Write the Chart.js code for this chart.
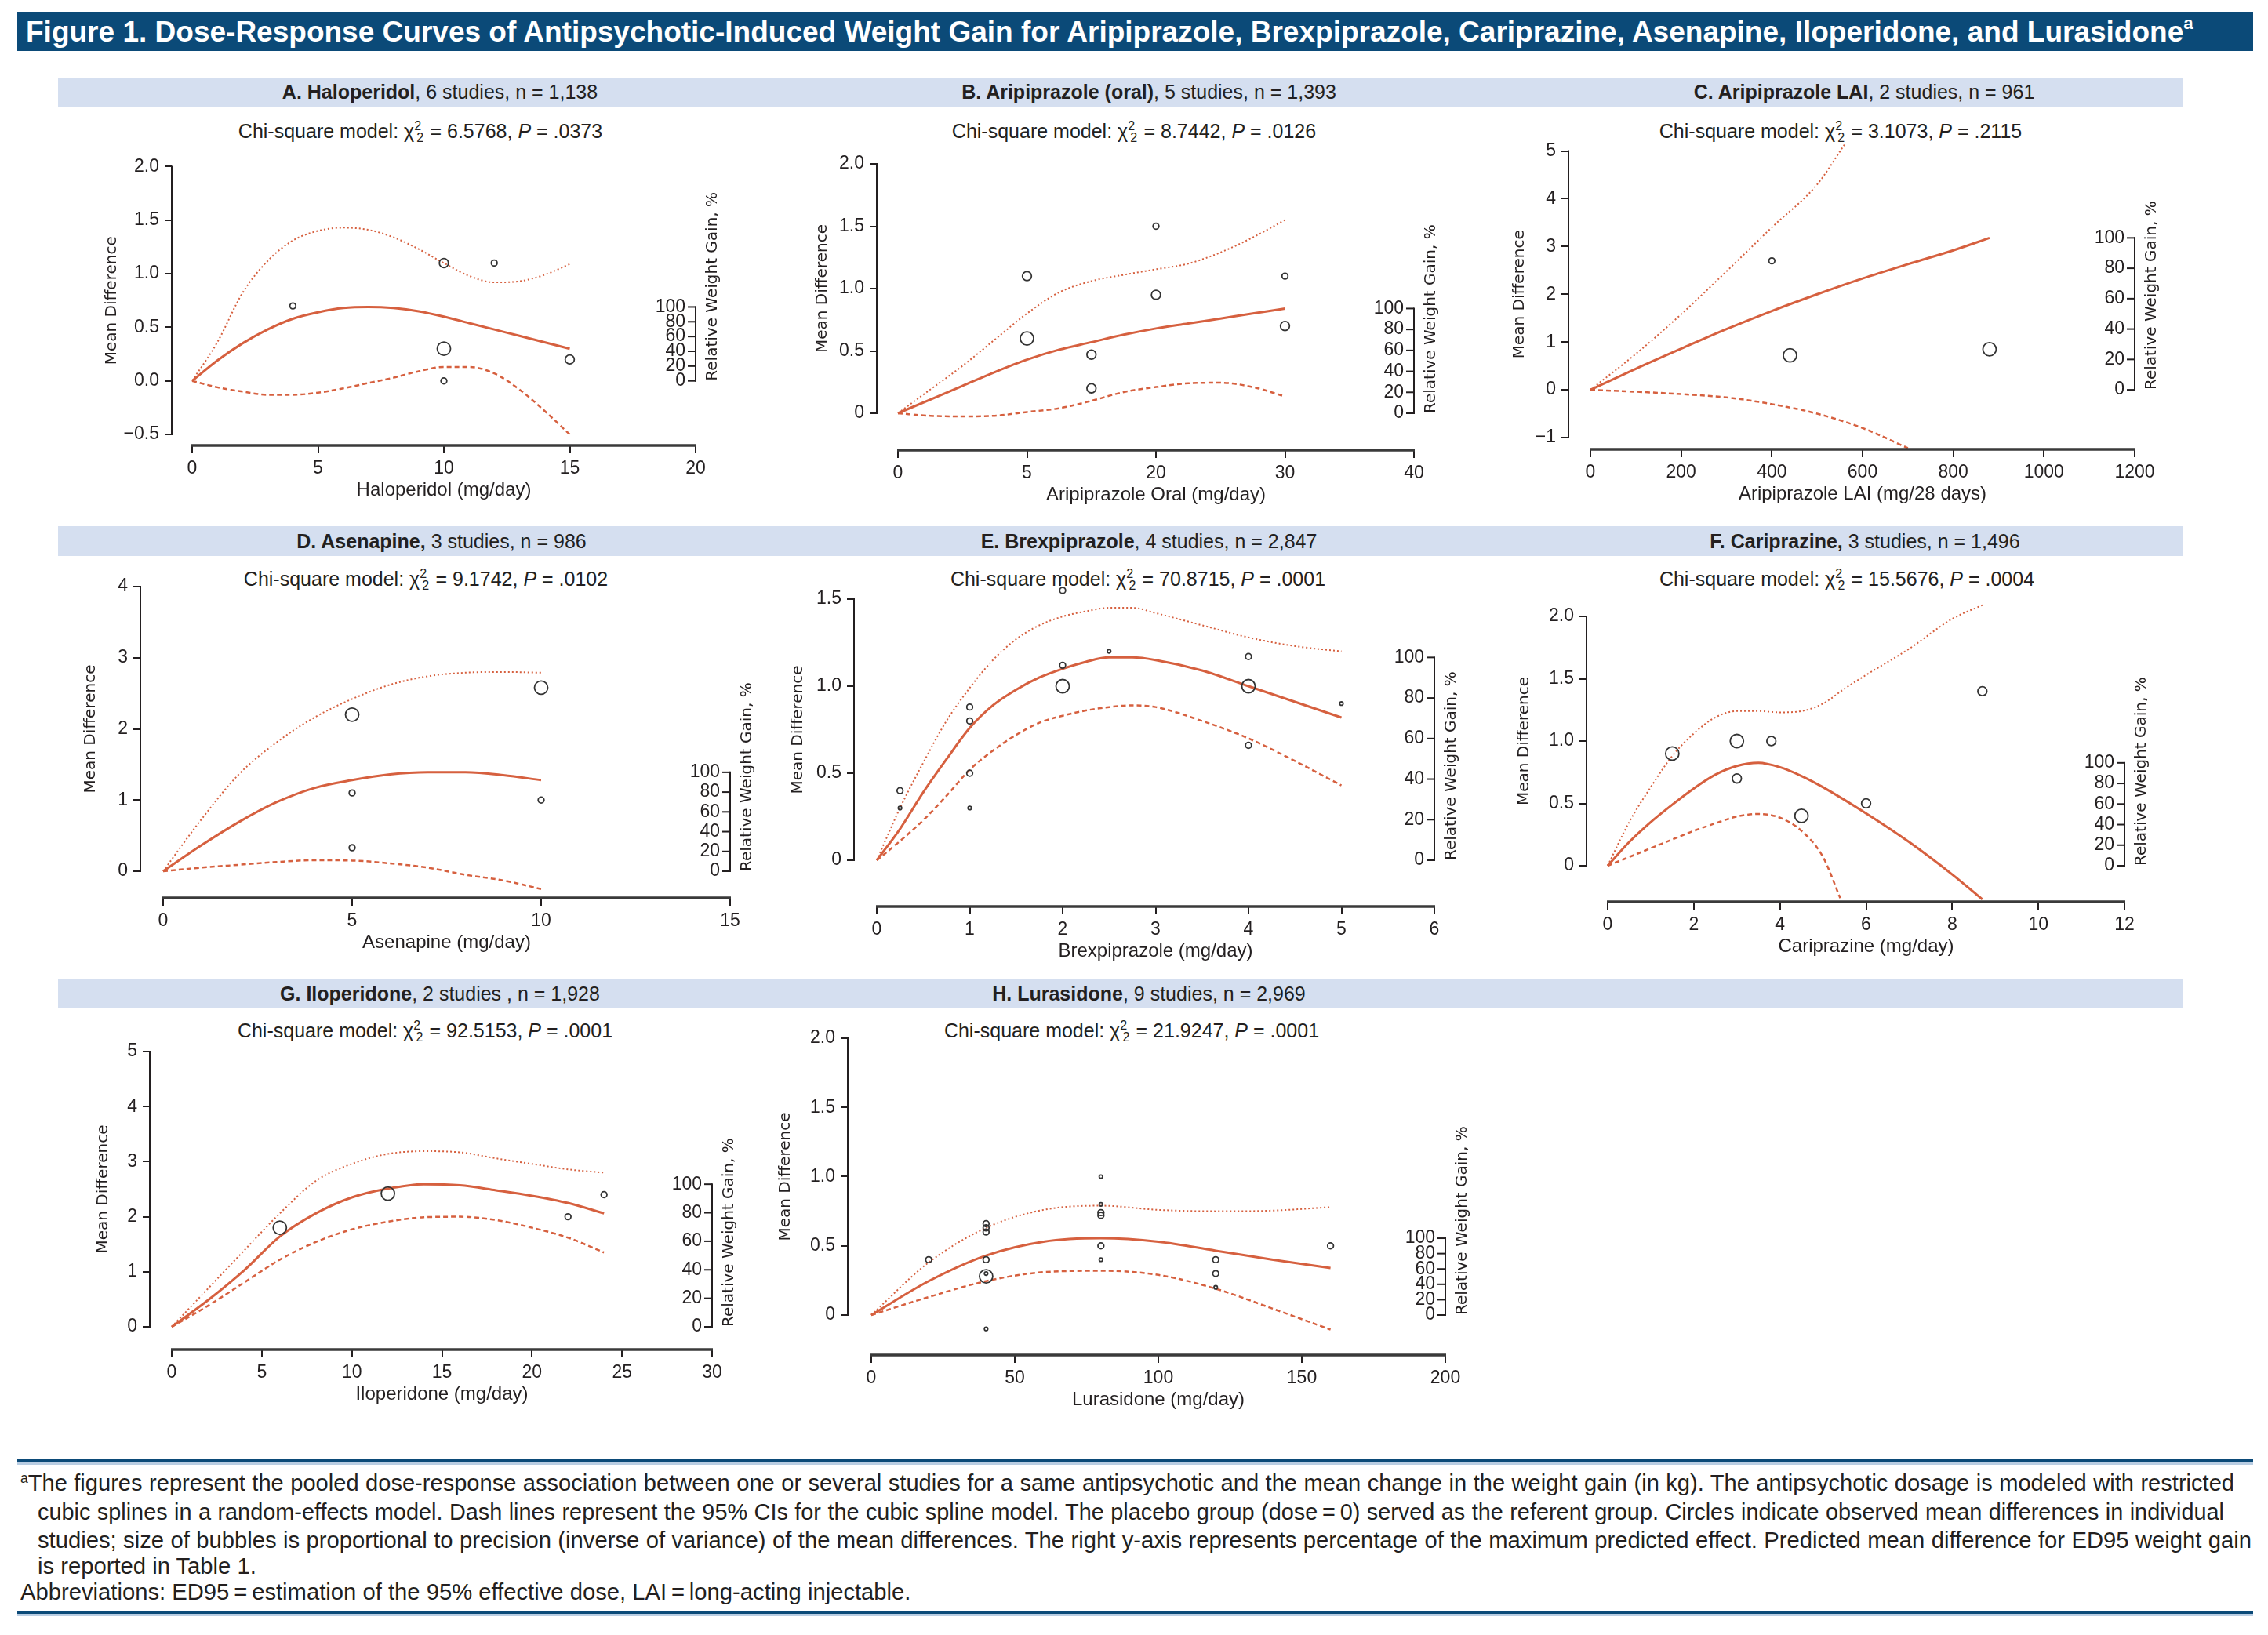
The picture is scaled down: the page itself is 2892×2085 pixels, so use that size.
<!DOCTYPE html>
<html lang="en">
<head>
<meta charset="UTF-8">
<title>Figure 1. Dose-Response Curves of Antipsychotic-Induced Weight Gain</title>
<style>
  body { margin: 0; background: #fff; }
  #page { position: relative; width: 2892px; height: 2085px; overflow: hidden;
          font-family: "Liberation Sans", Arial, sans-serif; color: #231f20; }
  .titlebar { position: absolute; left: 22px; top: 15px; width: 2851px; height: 50px; background: #0b4a78; }
  .titlebar span { position: absolute; left: 11px; top: 0; line-height: 50px; color: #fff;
                   font-weight: bold; font-size: 33px; white-space: nowrap; }
  .titlebar sup { font-size: 0.6em; vertical-align: 0.7em; line-height: 0; }
  .band { position: absolute; left: 74px; width: 2710px; background: #d5dff0; }
  .head, .chi { position: absolute; transform: translateX(-50%); white-space: nowrap; }
  .head { font-size: 25px; }
  .chi { font-size: 25px; line-height: 30px; }
  .chi sup, .chi sub { font-size: 0.64em; line-height: 0; }
  .chi sup { vertical-align: 0.62em; }
  .chi sub { vertical-align: -0.32em; margin-left: -0.36em; margin-right: 0.08em; }
  .rule { position: absolute; left: 22px; width: 2851px; height: 4px; background: #0b4a78;
          box-shadow: 0 3px 0 #b9cde2; }
  .fn { position: absolute; font-size: 25px; line-height: 34px; white-space: nowrap; }
  .fn.just { text-align: justify; text-align-last: justify; }
  .fn sup { font-size: 0.6em; vertical-align: 0.6em; line-height: 0; }
  canvas { position: absolute; }
</style>
</head>
<body>
<div id="page">
  <div class="titlebar"><span id="figTitle">Figure 1. Dose-Response Curves of Antipsychotic-Induced Weight Gain for Aripiprazole, Brexpiprazole, Cariprazine, Asenapine, Iloperidone, and Lurasidone<sup>a</sup></span></div>

  <div class="band" style="top:99px;height:37px"></div>
  <div class="band" style="top:671px;height:38px"></div>
  <div class="band" style="top:1248px;height:38px"></div>

  <div class="head" style="left:561px;top:99px;line-height:37px"><b>A. Haloperidol</b>, 6 studies, n = 1,138</div>
  <div class="head" style="left:1465px;top:99px;line-height:37px"><b>B. Aripiprazole (oral)</b>, 5 studies, n = 1,393</div>
  <div class="head" style="left:2377px;top:99px;line-height:37px"><b>C. Aripiprazole LAI</b>, 2 studies, n = 961</div>
  <div class="head" style="left:563px;top:671px;line-height:38px"><b>D. Asenapine,</b> 3 studies, n = 986</div>
  <div class="head" style="left:1465px;top:671px;line-height:38px"><b>E. Brexpiprazole</b>, 4 studies, n = 2,847</div>
  <div class="head" style="left:2378px;top:671px;line-height:38px"><b>F. Cariprazine,</b> 3 studies, n = 1,496</div>
  <div class="head" style="left:561px;top:1248px;line-height:38px"><b>G. Iloperidone</b>, 2 studies , n = 1,928</div>
  <div class="head" style="left:1465px;top:1248px;line-height:38px"><b>H. Lurasidone</b>, 9 studies, n = 2,969</div>

  <div class="chi" style="left:536px;top:152px">Chi-square model: χ<sup>2</sup><sub>2</sub> = 6.5768, <i>P</i> = .0373</div>
  <div class="chi" style="left:1446px;top:152px">Chi-square model: χ<sup>2</sup><sub>2</sub> = 8.7442, <i>P</i> = .0126</div>
  <div class="chi" style="left:2347px;top:152px">Chi-square model: χ<sup>2</sup><sub>2</sub> = 3.1073, <i>P</i> = .2115</div>
  <div class="chi" style="left:543px;top:723px">Chi-square model: χ<sup>2</sup><sub>2</sub> = 9.1742, <i>P</i> = .0102</div>
  <div class="chi" style="left:1451px;top:723px">Chi-square model: χ<sup>2</sup><sub>2</sub> = 70.8715, <i>P</i> = .0001</div>
  <div class="chi" style="left:2355px;top:723px">Chi-square model: χ<sup>2</sup><sub>2</sub> = 15.5676, <i>P</i> = .0004</div>
  <div class="chi" style="left:542px;top:1299px">Chi-square model: χ<sup>2</sup><sub>2</sub> = 92.5153, <i>P</i> = .0001</div>
  <div class="chi" style="left:1443px;top:1299px">Chi-square model: χ<sup>2</sup><sub>2</sub> = 21.9247, <i>P</i> = .0001</div>

  <div class="rule" style="top:1861px"></div>
  <div class="fn" data-w="2823" style="left:26px;top:1874px"><sup>a</sup>The figures represent the pooled dose-response association between one or several studies for a same antipsychotic and the mean change in the weight gain (in kg). The antipsychotic dosage is modeled with restricted</div>
  <div class="fn" data-w="2788" style="left:48px;top:1911px">cubic splines in a random-effects model. Dash lines represent the 95% CIs for the cubic spline model. The placebo group (dose&#8201;=&#8201;0) served as the referent group. Circles indicate observed mean differences in individual</div>
  <div class="fn" data-w="2823" style="left:48px;top:1947px">studies; size of bubbles is proportional to precision (inverse of variance) of the mean differences. The right y-axis represents percentage of the maximum predicted effect. Predicted mean difference for ED95 weight gain</div>
  <div class="fn" style="left:48px;top:1980px">is reported in Table 1.</div>
  <div class="fn" id="fnAbbr" style="left:26px;top:2013px">Abbreviations: ED95&#8201;=&#8201;estimation of the 95% effective dose, LAI&#8201;=&#8201;long-acting injectable.</div>
  <div class="rule" style="top:2054px"></div>
</div>

<script src="https://cdn.jsdelivr.net/npm/chart.js@4"></script>
<script>
// ---- data ----
// A. Haloperidol
const haloDose   = [0, 1, 2, 3, 4, 5, 6, 7, 8, 9, 10, 11, 12, 13, 14, 15];
const haloFit    = [0, 0.19, 0.35, 0.48, 0.58, 0.64, 0.68, 0.69, 0.68, 0.65, 0.60, 0.54, 0.48, 0.42, 0.36, 0.30];
const haloUpper  = [0, 0.36, 0.82, 1.12, 1.31, 1.40, 1.43, 1.41, 1.34, 1.23, 1.10, 0.98, 0.92, 0.93, 0.99, 1.09];
const haloLower  = [0, -0.06, -0.10, -0.13, -0.13, -0.11, -0.07, -0.02, 0.03, 0.09, 0.13, 0.13, 0.07, -0.08, -0.28, -0.50];
const haloStudyDose = [4, 10, 12, 10, 10, 15];
const haloStudyMD   = [0.70, 1.10, 1.10, 0.30, 0.00, 0.20];
const haloStudyPrec = [2, 3, 2, 4, 2, 3];

// B. Aripiprazole (oral)
const ariDose  = [0, 2.5, 5, 7.5, 10, 12.5, 15, 17.5, 20, 22.5, 25, 27.5, 30];
const ariFit   = [0, 0.11, 0.22, 0.33, 0.43, 0.51, 0.57, 0.63, 0.68, 0.72, 0.76, 0.80, 0.84];
const ariUpper = [0, 0.19, 0.38, 0.59, 0.80, 0.97, 1.06, 1.11, 1.155, 1.20, 1.29, 1.41, 1.55];
const ariLower = [0, -0.02, -0.025, -0.02, 0.01, 0.04, 0.10, 0.17, 0.21, 0.24, 0.245, 0.21, 0.135];
const ariStudyDose = [10, 10, 15, 15, 20, 20, 30, 30];
const ariStudyMD   = [1.10, 0.60, 0.47, 0.20, 1.50, 0.95, 1.10, 0.70];
const ariStudyPrec = [3, 4, 3, 3, 2, 3, 2, 3];

// C. Aripiprazole LAI
const laiFitDose   = [0, 100, 200, 300, 400, 500, 600, 700, 800, 880];
const laiFit       = [0, 0.44, 0.86, 1.27, 1.65, 2.00, 2.33, 2.63, 2.92, 3.18];
const laiUpperDose = [0, 100, 200, 300, 400, 500, 560];
const laiUpper     = [0, 0.75, 1.58, 2.48, 3.40, 4.30, 5.13];
const laiLowerDose = [0, 100, 200, 300, 400, 500, 600, 700];
const laiLower     = [0, -0.04, -0.09, -0.16, -0.30, -0.50, -0.80, -1.22];
const laiStudyDose = [400, 440, 880];
const laiStudyMD   = [2.70, 0.72, 0.85];
const laiStudyPrec = [2, 4, 4];

// D. Asenapine
const asenDose  = [0, 1, 2, 3, 4, 5, 6, 7, 8, 9, 10];
const asenFit   = [0, 0.36, 0.69, 0.97, 1.17, 1.28, 1.36, 1.39, 1.39, 1.35, 1.28];
const asenUpper = [0, 0.72, 1.36, 1.81, 2.16, 2.42, 2.62, 2.74, 2.79, 2.80, 2.79];
const asenLower = [0, 0.05, 0.09, 0.13, 0.155, 0.15, 0.11, 0.05, -0.05, -0.13, -0.25];
const asenStudyDose = [5, 10, 5, 10, 5];
const asenStudyMD   = [2.20, 2.58, 1.10, 1.00, 0.33];
const asenStudyPrec = [4, 4, 2, 2, 2];

// E. Brexpiprazole
const brexDose  = [0, 0.25, 0.5, 0.75, 1, 1.25, 1.5, 1.75, 2, 2.25, 2.5, 2.75, 3, 3.5, 4, 4.5, 5];
const brexFit   = [0, 0.18, 0.39, 0.58, 0.76, 0.89, 0.98, 1.05, 1.10, 1.14, 1.165, 1.165, 1.15, 1.09, 1.00, 0.91, 0.82];
const brexUpper = [0, 0.30, 0.56, 0.80, 0.99, 1.15, 1.27, 1.35, 1.40, 1.43, 1.45, 1.45, 1.42, 1.35, 1.28, 1.23, 1.20];
const brexLower = [0, 0.11, 0.23, 0.37, 0.52, 0.63, 0.72, 0.79, 0.83, 0.86, 0.88, 0.89, 0.88, 0.80, 0.70, 0.57, 0.43];
const brexStudyDose = [0.25, 0.25, 1, 1, 1, 1, 2, 2, 2, 2.5, 4, 4, 4, 5];
const brexStudyMD   = [0.40, 0.30, 0.88, 0.80, 0.50, 0.30, 1.55, 1.12, 1.00, 1.20, 1.17, 1.00, 0.66, 0.90];
const brexStudyPrec = [2, 1, 2, 2, 2, 1, 2, 2, 4, 1, 2, 4, 2, 1];

// F. Cariprazine
const cariFitDose   = [0, 0.5, 1, 1.5, 2, 2.5, 3, 3.5, 4, 4.5, 5, 6, 7, 8, 8.7];
const cariFit       = [0, 0.19, 0.35, 0.49, 0.62, 0.73, 0.80, 0.825, 0.79, 0.72, 0.63, 0.42, 0.19, -0.07, -0.27];
const cariUpperDose = [0, 0.5, 1, 1.5, 2, 2.5, 3, 3.5, 4, 4.5, 5, 5.5, 6, 7, 8, 8.7];
const cariUpper     = [0, 0.35, 0.63, 0.88, 1.06, 1.19, 1.24, 1.24, 1.23, 1.24, 1.30, 1.42, 1.53, 1.74, 1.98, 2.09];
const cariLowerDose = [0, 0.5, 1, 1.5, 2, 2.5, 3, 3.5, 4, 4.5, 5, 5.4];
const cariLower     = [0, 0.07, 0.14, 0.21, 0.28, 0.34, 0.395, 0.415, 0.385, 0.28, 0.07, -0.26];
const cariStudyDose = [1.5, 3, 3.8, 3, 4.5, 6, 8.7];
const cariStudyMD   = [0.90, 1.00, 1.00, 0.70, 0.40, 0.50, 1.40];
const cariStudyPrec = [4, 4, 3, 3, 4, 3, 3];

// G. Iloperidone
const iloDose  = [0, 2, 4, 6, 8, 10, 12, 14, 16, 18, 20, 22, 24];
const iloFit   = [0, 0.48, 1.02, 1.64, 2.06, 2.35, 2.51, 2.59, 2.57, 2.48, 2.38, 2.25, 2.06];
const iloUpper = [0, 0.69, 1.38, 2.06, 2.65, 2.96, 3.14, 3.19, 3.17, 3.06, 2.96, 2.86, 2.80];
const iloLower = [0, 0.38, 0.80, 1.22, 1.54, 1.77, 1.91, 1.99, 2.00, 1.94, 1.80, 1.62, 1.35];
const iloStudyDose = [6, 12, 22, 24];
const iloStudyMD   = [1.80, 2.42, 2.00, 2.40];
const iloStudyPrec = [4, 4, 2, 2];

// H. Lurasidone
const luraDose  = [0, 20, 40, 60, 80, 100, 120, 140, 160];
const luraFit   = [0, 0.245, 0.43, 0.53, 0.555, 0.53, 0.465, 0.40, 0.34];
const luraUpper = [0, 0.38, 0.63, 0.76, 0.79, 0.76, 0.75, 0.755, 0.78];
const luraLower = [0, 0.13, 0.245, 0.31, 0.32, 0.29, 0.19, 0.045, -0.105];
const luraStudyDose = [20, 40, 40, 40, 40, 40, 40, 40, 80, 80, 80, 80, 80, 80, 120, 120, 120, 160];
const luraStudyMD   = [0.40, 0.66, 0.63, 0.60, 0.40, 0.28, 0.30, -0.10, 1.00, 0.80, 0.74, 0.72, 0.50, 0.40, 0.40, 0.30, 0.20, 0.50];
const luraStudyPrec = [2, 2, 2, 2, 2, 4, 1, 1, 1, 1, 2, 2, 2, 1, 2, 2, 1, 2];

// tick values and labels
const relTicks = [0, 20, 40, 60, 80, 100];
const haloXTicks = [0, 5, 10, 15, 20];
const ariXTicks = [0, 10, 20, 30, 40];
const ariXLabels = ['0', '5', '20', '30', '40'];
const laiXTicks = [0, 200, 400, 600, 800, 1000, 1200];
const asenXTicks = [0, 5, 10, 15];
const brexXTicks = [0, 1, 2, 3, 4, 5, 6];
const cariXTicks = [0, 2, 4, 6, 8, 10, 12];
const iloXTicks = [0, 5, 10, 15, 20, 25, 30];
const luraXTicks = [0, 50, 100, 150, 200];
const haloYTicks = [-0.5, 0, 0.5, 1, 1.5, 2];
const haloYLabels = ['\u22120.5', '0.0', '0.5', '1.0', '1.5', '2.0'];
const halfYTicks = [0, 0.5, 1, 1.5, 2];
const halfYLabels = ['0', '0.5', '1.0', '1.5', '2.0'];
const laiYTicks = [-1, 0, 1, 2, 3, 4, 5];
const laiYLabels = ['\u22121', '0', '1', '2', '3', '4', '5'];
const asenYTicks = [0, 1, 2, 3, 4];
const brexYTicks = [0, 0.5, 1, 1.5];
const brexYLabels = ['0', '0.5', '1.0', '1.5'];
const iloYTicks = [0, 1, 2, 3, 4, 5];

// ---- styling ----
const INK = '#231f20';
const RED = '#d6603f';
const ML = 110, MR = 50, MT = 25, MB = 80;
const bubbleR = {1: 2.2, 2: 3.8, 3: 5.8, 4: 8.5};

Chart.defaults.font.family = '"Liberation Sans", Arial, sans-serif';
Chart.defaults.font.size = 23;
Chart.defaults.color = INK;

const panels = [
  {xt: 'Haloperidol (mg/day)', l: 219, r: 887, x0: 245, t: 195, b: 568, yTopPx: 212.5, yBotPx: 554, gap: 76,
   fit: [haloDose, haloFit], up: [haloDose, haloUpper], lo: [haloDose, haloLower],
   st: [haloStudyDose, haloStudyMD, haloStudyPrec], xTicks: haloXTicks, yTicks: haloYTicks, yLabels: haloYLabels},
  {xt: 'Aripiprazole Oral (mg/day)', l: 1118, r: 1803, x0: 1145, t: 195, b: 574, yTopPx: 209, yBotPx: 527, gap: 69,
   fit: [ariDose, ariFit], up: [ariDose, ariUpper], lo: [ariDose, ariLower],
   st: [ariStudyDose, ariStudyMD, ariStudyPrec], xTicks: ariXTicks, xLabels: ariXLabels, yTicks: halfYTicks, yLabels: halfYLabels},
  {xt: 'Aripiprazole LAI (mg/28 days)', l: 2000, r: 2722, x0: 2028, t: 175, b: 573, yTopPx: 192.5, yBotPx: 558, gap: 62,
   fit: [laiFitDose, laiFit], up: [laiUpperDose, laiUpper], lo: [laiLowerDose, laiLower],
   st: [laiStudyDose, laiStudyMD, laiStudyPrec], xTicks: laiXTicks, yTicks: laiYTicks, yLabels: laiYLabels},
  {xt: 'Asenapine (mg/day)', l: 179, r: 931, x0: 208, t: 735, b: 1145, yTopPx: 748, yBotPx: 1111, gap: 63,
   fit: [asenDose, asenFit], up: [asenDose, asenUpper], lo: [asenDose, asenLower],
   st: [asenStudyDose, asenStudyMD, asenStudyPrec], xTicks: asenXTicks, yTicks: asenYTicks},
  {xt: 'Brexpiprazole (mg/day)', l: 1089, r: 1829, x0: 1118, t: 735, b: 1156, yTopPx: 764, yBotPx: 1097, gap: 71,
   fit: [brexDose, brexFit], up: [brexDose, brexUpper], lo: [brexDose, brexLower],
   st: [brexStudyDose, brexStudyMD, brexStudyPrec], xTicks: brexXTicks, yTicks: brexYTicks, yLabels: brexYLabels},
  {xt: 'Cariprazine (mg/day)', l: 2023, r: 2709, x0: 2050, t: 760, b: 1150, yTopPx: 786, yBotPx: 1104, gap: 79,
   fit: [cariFitDose, cariFit], up: [cariUpperDose, cariUpper], lo: [cariLowerDose, cariLower],
   st: [cariStudyDose, cariStudyMD, cariStudyPrec], xTicks: cariXTicks, yTicks: halfYTicks, yLabels: halfYLabels},
  {xt: 'Iloperidone (mg/day)', l: 191, r: 908, x0: 219, t: 1325, b: 1721, yTopPx: 1341, yBotPx: 1692, gap: 59,
   fit: [iloDose, iloFit], up: [iloDose, iloUpper], lo: [iloDose, iloLower],
   st: [iloStudyDose, iloStudyMD, iloStudyPrec], xTicks: iloXTicks, yTicks: iloYTicks},
  {xt: 'Lurasidone (mg/day)', l: 1081, r: 1843, x0: 1111, t: 1310, b: 1728, yTopPx: 1324, yBotPx: 1677, gap: 79,
   fit: [luraDose, luraFit], up: [luraDose, luraUpper], lo: [luraDose, luraLower],
   st: [luraStudyDose, luraStudyMD, luraStudyPrec], xTicks: luraXTicks, yTicks: halfYTicks, yLabels: halfYLabels}
];

function pts(xs, ys) { return xs.map((x, i) => ({x: x, y: ys[i]})); }

// axis lines, right-hand % axis and axis titles
const axisPlugin = {
  id: 'axisDraw',
  afterDraw(chart, args, opts) {
    const p = opts.panel;
    const {ctx, chartArea: ca} = chart;
    const {x, y, y2} = chart.scales;
    const yt = y.getPixelForValue(p.yTicks[p.yTicks.length - 1]);
    const yb = y.getPixelForValue(p.yTicks[0]);
    const xa = x.getPixelForValue(p.xTicks[0]);
    const xb = x.getPixelForValue(p.xTicks[p.xTicks.length - 1]);
    const r0 = y2.getPixelForValue(0), r1 = y2.getPixelForValue(100);
    ctx.save();
    ctx.strokeStyle = INK;
    ctx.fillStyle = INK;
    ctx.lineWidth = 2;
    ctx.beginPath(); ctx.moveTo(ca.left, yt - 1); ctx.lineTo(ca.left, yb + 1); ctx.stroke();
    ctx.lineWidth = 3.5;
    ctx.strokeStyle = '#3a3a3a';
    ctx.beginPath(); ctx.moveTo(xa - 1, ca.bottom); ctx.lineTo(xb + 1, ca.bottom); ctx.stroke();
    ctx.strokeStyle = INK;
    ctx.lineWidth = 2;
    ctx.beginPath(); ctx.moveTo(ca.right, r0 + 1); ctx.lineTo(ca.right, r1 - 1); ctx.stroke();
    ctx.font = '23px "Liberation Sans", Arial, sans-serif';
    ctx.textAlign = 'right';
    ctx.textBaseline = 'middle';
    relTicks.forEach(v => {
      const py = y2.getPixelForValue(v);
      ctx.beginPath(); ctx.moveTo(ca.right - 10, py); ctx.lineTo(ca.right, py); ctx.stroke();
      ctx.fillText(String(v), ca.right - 13, py);
    });
    // x title
    ctx.textAlign = 'center';
    ctx.font = '24px "Liberation Sans", Arial, sans-serif';
    ctx.fillText(p.xt, (xa + xb) / 2, ca.bottom + 57);
    // left title
    ctx.font = '20px "DejaVu Sans", sans-serif';
    ctx.save();
    ctx.translate(ca.left - p.gap, (yt + yb) / 2);
    ctx.rotate(-Math.PI / 2);
    ctx.fillText('Mean Difference', 0, 0);
    ctx.restore();
    // right title, starting at 0 %
    ctx.save();
    ctx.translate(ca.right + 22, r0);
    ctx.rotate(-Math.PI / 2);
    ctx.textAlign = 'left';
    ctx.fillText('Relative Weight Gain, %', 0, 0);
    ctx.restore();
    ctx.restore();
  }
};

const page = document.getElementById('page');

panels.forEach(p => {
  const cv = document.createElement('canvas');
  const w = p.r - p.l + ML + MR, h = p.b - p.t + MT + MB;
  cv.width = w; cv.height = h;
  cv.style.left = (p.l - ML) + 'px';
  cv.style.top = (p.t - MT) + 'px';
  cv.style.width = w + 'px';
  cv.style.height = h + 'px';
  page.appendChild(cv);

  const xMax = p.xTicks[p.xTicks.length - 1];
  const kx = (p.r - p.x0) / xMax;
  const xMin = -(p.x0 - p.l) / kx;
  const yTopV = p.yTicks[p.yTicks.length - 1], yBotV = p.yTicks[0];
  const ky = (p.yBotPx - p.yTopPx) / (yTopV - yBotV);
  const yMax = yTopV + (p.yTopPx - p.t) / ky;
  const yMin = yBotV - (p.b - p.yBotPx) / ky;
  const peak = Math.max(...p.fit[1]);

  const lineBase = {type: 'line', pointRadius: 0, borderColor: RED, fill: false,
                    cubicInterpolationMode: 'monotone'};
  new Chart(cv, {
    type: 'scatter',
    data: {
      datasets: [
        {label: 'Studies', data: pts(p.st[0], p.st[1]),
         pointRadius: p.st[2].map(k => bubbleR[k]), pointBorderColor: '#333',
         pointBackgroundColor: 'rgba(0,0,0,0)', pointBorderWidth: 1.8},
        Object.assign({label: 'Spline', data: pts(p.fit[0], p.fit[1]), borderWidth: 3}, lineBase),
        Object.assign({label: 'Upper 95% CI', data: pts(p.up[0], p.up[1]), borderWidth: 2,
                       borderDash: [2, 3]}, lineBase),
        Object.assign({label: 'Lower 95% CI', data: pts(p.lo[0], p.lo[1]), borderWidth: 2.5,
                       borderDash: [6, 4]}, lineBase)
      ]
    },
    options: {
      responsive: false,
      animation: false,
      devicePixelRatio: 1,
      events: [],
      layout: {padding: {top: MT, right: MR, left: 0, bottom: 0}},
      plugins: {legend: {display: false}, tooltip: {enabled: false}, axisDraw: {panel: p}},
      scales: {
        x: {
          type: 'linear', min: xMin, max: xMax,
          border: {display: false},
          grid: {drawOnChartArea: false, tickLength: 10, color: INK, lineWidth: 2},
          ticks: {autoSkip: false, maxRotation: 0, padding: 6,
                  callback: (v, i) => p.xLabels ? p.xLabels[i] : String(p.xTicks[i])},
          afterBuildTicks: s => { s.ticks = p.xTicks.map(v => ({value: v})); },
          afterFit: s => { s.height = MB; }
        },
        y: {
          type: 'linear', min: yMin, max: yMax,
          border: {display: false},
          grid: {drawOnChartArea: false, tickLength: 9, color: INK, lineWidth: 2},
          ticks: {autoSkip: false, padding: 7,
                  callback: (v, i) => p.yLabels ? p.yLabels[i] : String(p.yTicks[i])},
          afterBuildTicks: s => { s.ticks = p.yTicks.map(v => ({value: v})); },
          afterFit: s => { s.width = ML; }
        },
        y2: {type: 'linear', display: false, position: 'right',
             min: yMin / peak * 100, max: yMax / peak * 100}
      }
    },
    plugins: [axisPlugin]
  });
});

// stretch the figure title to the width it has in the figure
const ft = document.getElementById('figTitle');
const fs = parseFloat(getComputedStyle(ft).fontSize);
ft.style.fontSize = (fs * 2765 / ft.getBoundingClientRect().width).toFixed(2) + 'px';

// footnote: size from the abbreviations line, then justify the full lines
const abbr = document.getElementById('fnAbbr');
const fnSize = 25 * 1136 / abbr.getBoundingClientRect().width;
document.querySelectorAll('.fn').forEach(el => { el.style.fontSize = fnSize.toFixed(2) + 'px'; });
document.querySelectorAll('.fn[data-w]').forEach(el => {
  const target = +el.dataset.w;
  const natural = el.getBoundingClientRect().width;
  if (natural > target) el.style.fontSize = (fnSize * target / natural * 0.995).toFixed(2) + 'px';
  el.style.width = target + 'px';
  el.classList.add('just');
});
</script>
</body>
</html>
